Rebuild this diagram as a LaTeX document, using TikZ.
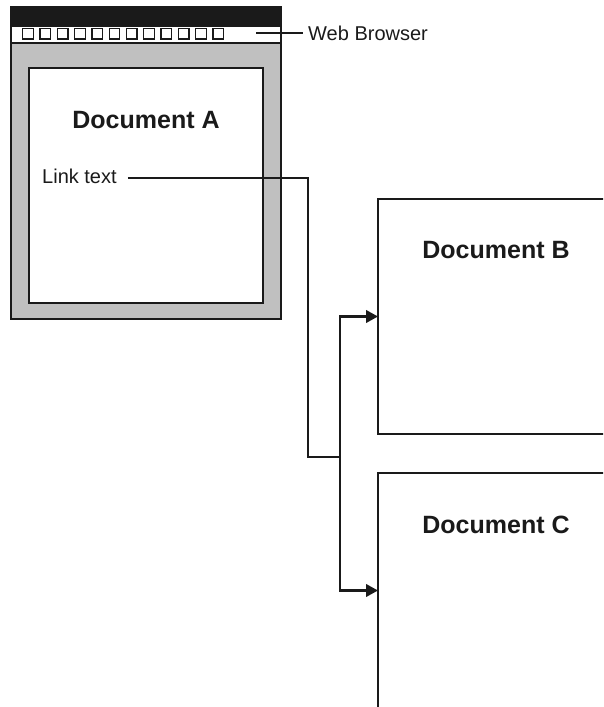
\documentclass[tikz,border=0pt]{standalone}
\usepackage{fontspec}
\setmainfont{Liberation Sans}
\usepackage{xcolor}
\usepackage{tikz}
\usetikzlibrary{arrows.meta,positioning}
\definecolor{ink}{HTML}{1A1A1A}
\definecolor{chrome}{HTML}{C0C0C0}

\begin{document}
\begin{tikzpicture}[
  x=1pt, y=1pt,
  font=\fontsize{20}{24}\selectfont,
  doc/.style={
     rectangle, draw=ink, line width=1.5pt,
     fill=white, inner sep=0pt, outer sep=0pt,
     minimum width=236pt, minimum height=235pt},
  bar/.style={
     rectangle, draw=ink, line width=1.5pt,
     inner sep=0pt, outer sep=0pt, minimum width=270pt},
  heading/.style={font=\fontsize{25}{30}\selectfont\bfseries, text=ink, inner sep=0pt},
  btn/.style={rectangle, draw=ink, line width=1.3pt, minimum size=10.6pt, inner sep=0pt},
  wire/.style={draw=ink, line width=1.7pt},
  arrow/.style={draw=ink, line width=2.4pt, -{Triangle[length=12pt,width=12.5pt]}},
  node distance=39pt]
\clip (0,0) rectangle (603,-707);
% browser window
\node[bar, fill=chrome, minimum height=312pt] (browser) at (146,-163) {};
\node[bar, fill=ink, minimum height=19pt, anchor=north] (titlebar) at (browser.north) {};
\node[bar, fill=white, minimum height=17pt, below=0pt of titlebar] (toolbar) {};
\foreach \i in {0,...,11}
  \node[btn] (btn\i) at (28+17.3*\i,-33.7) {};
\node[doc, minimum width=234pt] (docA) at (146,-185.5) {};
\node[heading] at ([yshift=-52]docA.north) {Document A};
\node[anchor=west, inner xsep=11pt, inner ysep=0pt, text height=10pt, text depth=0pt,
      text=ink] (link) at (31,-178) {Link text};
% label of the window
\coordinate (hook) at (256,-33);
\node[anchor=west, inner xsep=5pt, text=ink] (wb) at (303,-33) {Web Browser};
\draw[wire] (hook) -- (wb.west);
% target documents
\node[doc] (docB) at (496,-316.5) {};
\node[heading] at ([yshift=-51]docB.north) {Document B};
\node[doc, below=of docB] (docC) {};
\node[heading] at ([yshift=-52]docC.north) {Document C};
% link to both targets
\coordinate (drop) at (308,-457);
\coordinate (split) at (340,-457);
\draw[wire] (link.east) -| (drop) -- (split);
\draw[arrow] (split) |- (docB.west);
\draw[arrow] (split) |- (docC.west);
\end{tikzpicture}
\end{document}
